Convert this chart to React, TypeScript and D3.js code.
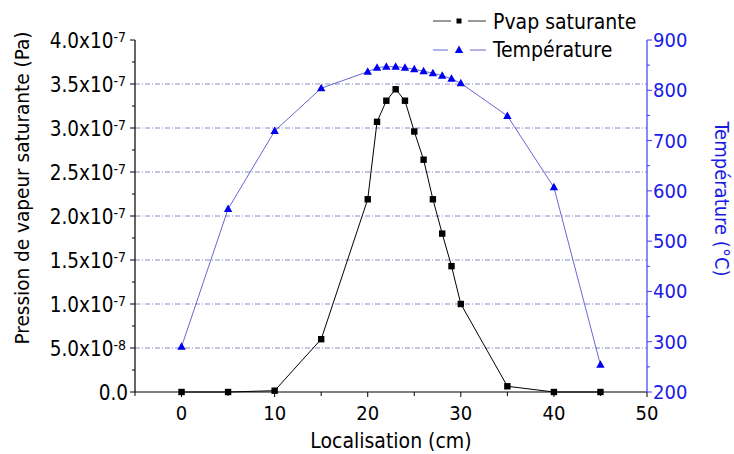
import React from 'react';
import * as d3 from 'd3';

// position along the tube (cm)
const locX: number[] = [0, 5, 10, 15, 20, 21, 22, 23, 24, 25, 26, 27, 28, 29, 30, 35, 40, 45];
// saturating vapour pressure (Pa)
const pvap: number[] = [0, 0, 1.5e-9, 6.0e-8, 2.19e-7, 3.07e-7, 3.31e-7, 3.44e-7, 3.31e-7, 2.96e-7, 2.64e-7, 2.19e-7, 1.80e-7, 1.43e-7, 1.0e-7, 6.5e-9, 0, 0];
// temperature (°C)
const temp: number[] = [290, 564, 719, 804, 837, 845, 847, 847, 845, 842, 838, 834, 829, 823, 814, 749, 607, 254];

const xTicks: number[] = [0, 10, 20, 30, 40, 50];
const xMinor: number[] = [-5, 5, 15, 25, 35, 45];
const leftTicks: number[] = [0, 5e-8, 1e-7, 1.5e-7, 2e-7, 2.5e-7, 3e-7, 3.5e-7, 4e-7];
const rightTicks: number[] = [200, 300, 400, 500, 600, 700, 800, 900];

const W = 734, H = 454;
const left = 135, right = 647, top = 40, bottom = 392;
const font = "'DejaVu Sans Condensed', 'DejaVu Sans', sans-serif";
const blue = '#1a1ae6';
const axisBlue = '#3c3cff';

const x = d3.scaleLinear().domain([-5, 50]).range([left, right]);
const yL = d3.scaleLinear().domain([0, 4e-7]).range([bottom, top]);
const yR = d3.scaleLinear().domain([200, 900]).range([bottom, top]);

const sciLabel = (v: number) => {
  if (v === 0) return { m: '0.0', e: '' };
  const e = Math.floor(Math.log10(v) + 1e-9);
  return { m: (v / Math.pow(10, e)).toFixed(1) + 'x10', e: String(e) };
};

const tri = (cx: number, cy: number) =>
  `M${cx},${cy - 4.5} L${cx + 4.2},${cy + 3} L${cx - 4.2},${cy + 3} Z`;

export default function App() {
  const pLine = d3.line<number>().x((d, i) => x(locX[i])).y(d => yL(d));
  const tLine = d3.line<number>().x((d, i) => x(locX[i])).y(d => yR(d));
  const leftMinor = d3.range(0, 8).map(i => 2.5e-8 + i * 5e-8);
  const rightMinor = d3.range(0, 7).map(i => 250 + i * 100);

  return (
    <svg width={W} height={H} style={{ position: 'absolute', left: 0, top: 0, background: '#fff' }}
      fontFamily={font} fontStretch="condensed">
      {/* grid */}
      {leftTicks.filter(t => t > 0 && t < 4e-7).map(t => (
        <line key={t} x1={left} x2={right} y1={yL(t)} y2={yL(t)} stroke="#6a6ab8"
          strokeWidth={0.8} strokeDasharray="5,2,1,2" />
      ))}

      {/* left axis */}
      <line x1={left} x2={left} y1={top} y2={bottom} stroke="#000" strokeWidth={1.2} />
      {leftTicks.map(t => (
        <line key={t} x1={left - 5} x2={left} y1={yL(t)} y2={yL(t)} stroke="#000" />
      ))}
      {leftMinor.map(t => (
        <line key={t} x1={left - 3} x2={left} y1={yL(t)} y2={yL(t)} stroke="#000" />
      ))}
      {leftTicks.map(t => {
        const l = sciLabel(t);
        return (
          <text key={t} x={l.e ? left - 9 : left - 7} y={yL(t) + 8} textAnchor="end" fontSize={20.5} fill="#000">
            {l.m}
            {l.e && <tspan fontSize={14} dy={-6}>{l.e}</tspan>}
          </text>
        );
      })}

      {/* bottom axis */}
      <line x1={left} x2={right} y1={bottom} y2={bottom} stroke="#000" strokeWidth={1.2} />
      {xTicks.map(t => (
        <g key={t}>
          <line x1={x(t)} x2={x(t)} y1={bottom} y2={bottom + 5} stroke="#000" />
          <text x={x(t)} y={bottom + 28} textAnchor="middle" fontSize={20}>{t}</text>
        </g>
      ))}
      {xMinor.map(t => (
        <line key={t} x1={x(t)} x2={x(t)} y1={bottom} y2={bottom + 4} stroke="#000" />
      ))}

      {/* right axis */}
      <line x1={right} x2={right} y1={top} y2={bottom} stroke={axisBlue} strokeWidth={1.2} />
      {rightTicks.map(t => (
        <g key={t}>
          <line x1={right} x2={right + 5} y1={yR(t)} y2={yR(t)} stroke={axisBlue} />
          <text x={right + 6} y={yR(t) + 7} fontSize={20} fill={blue}>{t}</text>
        </g>
      ))}
      {rightMinor.map(t => (
        <line key={t} x1={right} x2={right + 3} y1={yR(t)} y2={yR(t)} stroke={axisBlue} />
      ))}

      {/* axis titles */}
      <text x={391} y={448} textAnchor="middle" fontSize={21}>Localisation (cm)</text>
      <text transform="translate(29,188) rotate(-90)" textAnchor="middle" fontSize={20}
        textLength={313} lengthAdjust="spacingAndGlyphs">
        Pression de vapeur saturante (Pa)
      </text>
      <text transform="translate(715,199) rotate(90)" textAnchor="middle" fontSize={19.5} fill={blue}
        textLength={155} lengthAdjust="spacingAndGlyphs">
        Température (°C)
      </text>

      {/* series */}
      <path d={tLine(temp) || ''} fill="none" stroke="#4040c8" strokeWidth={0.8} />
      <path d={pLine(pvap) || ''} fill="none" stroke="#000" strokeWidth={1} />
      {temp.map((v, i) => (
        <path key={i} d={tri(x(locX[i]), yR(v))} fill="#0000ee" />
      ))}
      {pvap.map((v, i) => (
        <rect key={i} x={x(locX[i]) - 3.2} y={yL(v) - 3.2} width={6.4} height={6.4} fill="#000" />
      ))}

      {/* legend */}
      <line x1={433} x2={451} y1={21} y2={21} stroke="#333" />
      <line x1={468} x2={486} y1={21} y2={21} stroke="#333" />
      <rect x={456.5} y={18.5} width={5} height={5} fill="#000" />
      <text x={493} y={29} fontSize={21}>Pvap saturante</text>
      <line x1={433} x2={448} y1={50} y2={50} stroke="#4040c8" strokeWidth={0.8} />
      <line x1={470} x2={486} y1={50} y2={50} stroke="#4040c8" strokeWidth={0.8} />
      <path d={tri(459, 50)} fill="#0000ee" />
      <text x={493} y={57} fontSize={21}>Température</text>
    </svg>
  );
}
